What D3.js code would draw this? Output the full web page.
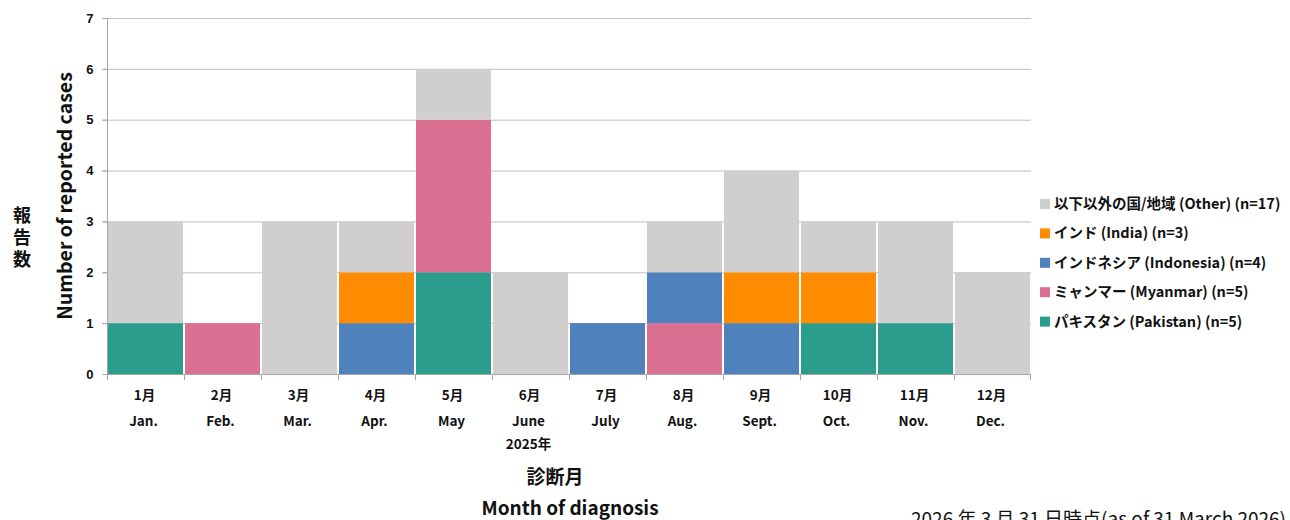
<!DOCTYPE html>
<html><head><meta charset="utf-8">
<script src="https://cdn.jsdelivr.net/npm/d3@7"></script>
<style>
body{margin:0;background:#fff;}
svg{display:block;font-family:"Noto Sans CJK JP","Noto Sans",sans-serif;}
</style></head><body>
<svg id="c" width="1290" height="520"></svg>
<script>
const monthsJa = ["1月","2月","3月","4月","5月","6月","7月","8月","9月","10月","11月","12月"];
const monthsEn = ["Jan.","Feb.","Mar.","Apr.","May","June","July","Aug.","Sept.","Oct.","Nov.","Dec."];
const seriesKeys = ["pakistan","myanmar","indonesia","india","other"];
const seriesLabels = ["パキスタン (Pakistan) (n=5)","ミャンマー (Myanmar) (n=5)","インドネシア (Indonesia) (n=4)","インド (India) (n=3)","以下以外の国/地域 (Other) (n=17)"];
const seriesColors = ["#2A9D8C","#DB7093","#4F81BD","#FF8C00","#D0CECE"];
const pakistan  = [1,0,0,0,2,0,0,0,0,1,1,0];
const myanmar   = [0,1,0,0,3,0,0,1,0,0,0,0];
const indonesia = [0,0,0,1,0,0,1,1,1,0,0,0];
const india     = [0,0,0,1,0,0,0,0,1,1,0,0];
const other     = [2,0,3,1,1,2,0,1,2,1,2,2];
const yTicks = [0,1,2,3,4,5,6,7];

const seriesData = {pakistan,myanmar,indonesia,india,other};
const table = monthsEn.map((m,i)=>{const r={month:m}; seriesKeys.forEach(k=>r[k]=seriesData[k][i]); return r;});
const stack = d3.stack().keys(seriesKeys)(table);

const svg = d3.select("#c");
const L=107,R=1031,T=18,B=374;
const x = d3.scaleBand().domain(monthsEn).range([L,R]).padding(0);
const y = d3.scaleLinear().domain([0,7]).range([B,T]);

// gridlines
svg.append("g").selectAll("line").data(yTicks.filter(d=>d>0)).join("line")
  .attr("x1",L-5).attr("x2",R).attr("y1",d=>y(d)+0.5).attr("y2",d=>y(d)+0.5)
  .attr("stroke","#BFBFBF").attr("stroke-width",1);

// bars
svg.append("g").selectAll("g").data(stack).join("g")
  .attr("fill",(d,i)=>seriesColors[i])
  .selectAll("rect").data(d=>d.filter(s=>s[1]-s[0]>0)).join("rect")
  .attr("x",d=>x(d.data.month)+1).attr("width",x.bandwidth()-2)
  .attr("y",d=>y(d[1])).attr("height",d=>y(d[0])-y(d[1]));

// y axis
const ya = svg.append("g").attr("transform",`translate(${L+0.5},0)`)
  .call(d3.axisLeft(y).tickValues(yTicks).tickSize(5).tickPadding(9).tickFormat(d3.format("d")));
ya.select(".domain").attr("stroke","#A6A6A6").attr("d",`M-5,${T+0.5}H0V${B}`);
ya.selectAll(".tick line").attr("stroke","#A6A6A6");
ya.selectAll(".tick text").attr("font-size",13).attr("font-weight","bold").attr("fill","#111");

// x axis
svg.append("line").attr("x1",L).attr("x2",R).attr("y1",B+0.5).attr("y2",B+0.5).attr("stroke","#A6A6A6");
const bounds = monthsEn.map(m=>x(m)).concat([R-1]);
svg.append("g").selectAll("line").data(bounds).join("line")
  .attr("x1",d=>Math.round(d)+0.5).attr("x2",d=>Math.round(d)+0.5)
  .attr("y1",B).attr("y2",B+6).attr("stroke","#A6A6A6");
const xl = svg.append("g").attr("font-size",13.5).attr("font-weight","bold").attr("fill","#111").attr("text-anchor","middle");
xl.selectAll(".ja").data(monthsJa).join("text").attr("x",(d,i)=>x(monthsEn[i])+x.bandwidth()/2-1).attr("y",400).text(d=>d);
xl.selectAll(".en").data(monthsEn).join("text").attr("x",d=>x(d)+x.bandwidth()/2-2).attr("y",426).text(d=>d);
xl.append("text").attr("x",x("June")+x.bandwidth()/2-2).attr("y",449).text("2025年");

// axis titles
svg.append("text").attr("transform","translate(72,196) rotate(-90)").attr("text-anchor","middle")
  .attr("font-size",19.5).attr("font-weight","bold").attr("fill","#111").text("Number of reported cases");
svg.append("text").attr("x",22).attr("y",206).attr("font-size",18).attr("font-weight","bold").attr("fill","#111")
  .style("writing-mode","vertical-rl").attr("letter-spacing","4px").text("報告数");
svg.append("text").attr("x",555).attr("y",484).attr("text-anchor","middle").attr("font-size",19).attr("font-weight","bold").attr("fill","#111").text("診断月");
svg.append("text").attr("x",570).attr("y",515).attr("text-anchor","middle").attr("font-size",19).attr("font-weight","bold").attr("fill","#111").text("Month of diagnosis");
svg.append("text").attr("x",911).attr("y",526).attr("font-size",19).attr("fill","#111").text("2026 年 3 月 31 日時点(as of 31 March 2026)");

// legend
const leg = svg.append("g").attr("font-size",14.5).attr("font-weight","bold").attr("fill","#111");
const order = [4,3,2,1,0];
order.forEach((si,r)=>{
  const yy = 204 + r*29.4;
  leg.append("rect").attr("x",1040).attr("y",yy-5).attr("width",10).attr("height",10).attr("fill",seriesColors[si]);
  leg.append("text").attr("x",1054).attr("y",yy+5).text(seriesLabels[si]);
});
</script></body></html>
